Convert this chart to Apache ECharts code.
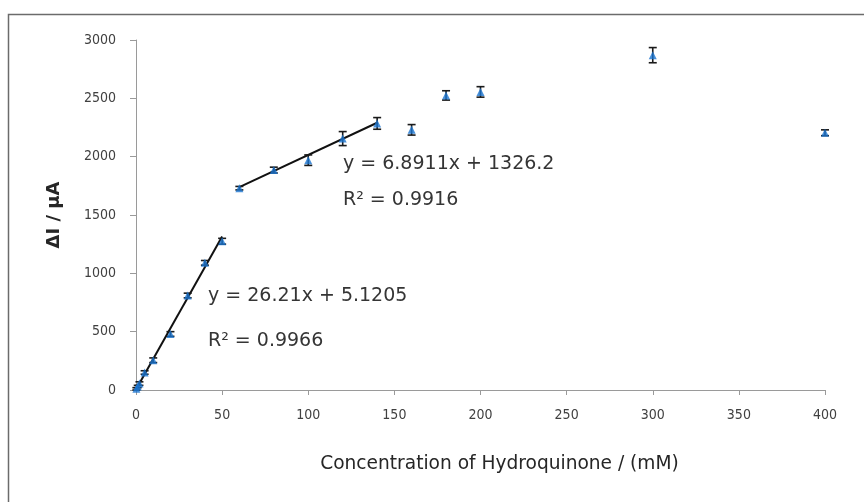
<!DOCTYPE html>
<html>
<head>
<meta charset="utf-8">
<script src="https://cdn.jsdelivr.net/npm/echarts@6/dist/echarts.min.js"></script>
<style>
  html, body { margin: 0; padding: 0; background: #fff; }
  #chart { width: 864px; height: 502px; }
</style>
</head>
<body>
<div id="chart"></div>
<script>
// Hydroquinone calibration: concentration (mM) vs current change (µA)
const concentration = [0.2, 1, 2, 5, 10, 20, 30, 40, 50, 60, 80, 100, 120, 140, 160, 180, 200, 300, 400];
const deltaI =        [10, 30, 55, 150, 255, 480, 810, 1090, 1275, 1730, 1885, 1970, 2155, 2285, 2230, 2525, 2555, 2870, 2205];
const errorBar =      [10, 10, 15, 15, 20, 20, 20, 20, 25, 15, 25, 45, 60, 50, 45, 40, 45, 65, 25];

const xTicks = { min: 0, max: 400, step: 50 };
const yTicks = { min: 0, max: 3000, step: 500 };

// Linear fits over the two ranges
const fitLow = { slope: 26.21, intercept: 5.1205, from: 0, to: 50, eq: 'y = 26.21x + 5.1205', r2: 'R² = 0.9966' };
const fitHigh = { slope: 6.8911, intercept: 1326.2, from: 60, to: 140, eq: 'y = 6.8911x + 1326.2', r2: 'R² = 0.9916' };

const points = concentration.map((c, i) => [c, deltaI[i]]);
const bars = concentration.map((c, i) => [c, deltaI[i] - errorBar[i], deltaI[i] + errorBar[i]]);
const fitLine = f => [[f.from, f.slope * f.from + f.intercept], [f.to, f.slope * f.to + f.intercept]];

const sans = '"DejaVu Sans", sans-serif';
const narrow = '"DejaVu Sans Condensed", "DejaVu Sans", sans-serif';
const chart = echarts.init(document.getElementById('chart'));

const note = (text, x, y) => ({
  type: 'text', x, y,
  style: { text, font: '19px ' + sans, fill: '#353535', verticalAlign: 'middle', align: 'left' }
});

chart.setOption({
  animation: false,
  backgroundColor: '#fff',
  grid: { left: 136, right: 39, top: 40, bottom: 112 },
  xAxis: {
    type: 'value', min: xTicks.min, max: xTicks.max, interval: xTicks.step,
    name: 'Concentration of Hydroquinone / (mM)', nameLocation: 'middle', nameGap: 65,
    nameTextStyle: { fontFamily: sans, fontSize: 18.6, color: '#262626', padding: [0, 0, 0, 38] },
    axisLine: { lineStyle: { color: '#9a9a9a', width: 1 } },
    axisTick: { show: true, inside: false, length: 5, lineStyle: { color: '#9a9a9a' } },
    axisLabel: { fontFamily: narrow, fontSize: 14, color: '#404040', margin: 18 },
    splitLine: { show: false }
  },
  yAxis: {
    type: 'value', min: yTicks.min, max: yTicks.max, interval: yTicks.step,
    name: 'ΔI / μA', nameLocation: 'middle', nameGap: 73,
    nameTextStyle: { fontFamily: sans, fontSize: 18, fontWeight: 'bold', color: '#262626' },
    axisLine: { show: true, lineStyle: { color: '#9a9a9a', width: 1 } },
    axisTick: { show: true, inside: false, length: 6, lineStyle: { color: '#9a9a9a' } },
    axisLabel: { fontFamily: narrow, fontSize: 14, color: '#404040', margin: 20, formatter: v => String(v) },
    splitLine: { show: false }
  },
  graphic: [
    { type: 'rect', shape: { x: 8.5, y: 14.5, width: 900, height: 520 }, style: { fill: 'none', stroke: '#6b6b6b', lineWidth: 1.5 }, silent: true },
    note(fitLow.eq, 208, 296),
    note(fitLow.r2, 208, 341),
    note(fitHigh.eq, 343, 164),
    note(fitHigh.r2, 343, 200)
  ],
  series: [
    {
      type: 'line', data: fitLine(fitLow), symbol: 'none',
      lineStyle: { color: '#111', width: 2 }, z: 3
    },
    {
      type: 'line', data: fitLine(fitHigh), symbol: 'none',
      lineStyle: { color: '#111', width: 2 }, z: 3
    },
    {
      type: 'custom', data: bars, z: 4,
      renderItem: (params, api) => {
        const x = api.value(0);
        const lo = api.coord([x, api.value(1)]);
        const hi = api.coord([x, api.value(2)]);
        const cap = 4;
        const style = { stroke: '#1a1a1a', lineWidth: 1.6 };
        return {
          type: 'group',
          children: [
            { type: 'line', shape: { x1: lo[0], y1: lo[1], x2: hi[0], y2: hi[1] }, style },
            { type: 'line', shape: { x1: lo[0] - cap, y1: lo[1], x2: lo[0] + cap, y2: lo[1] }, style },
            { type: 'line', shape: { x1: hi[0] - cap, y1: hi[1], x2: hi[0] + cap, y2: hi[1] }, style }
          ]
        };
      }
    },
    {
      type: 'scatter', data: points, symbol: 'triangle', symbolSize: 8, z: 5,
      itemStyle: { color: '#1a74d0' }
    }
  ]
});
</script>
</body>
</html>
